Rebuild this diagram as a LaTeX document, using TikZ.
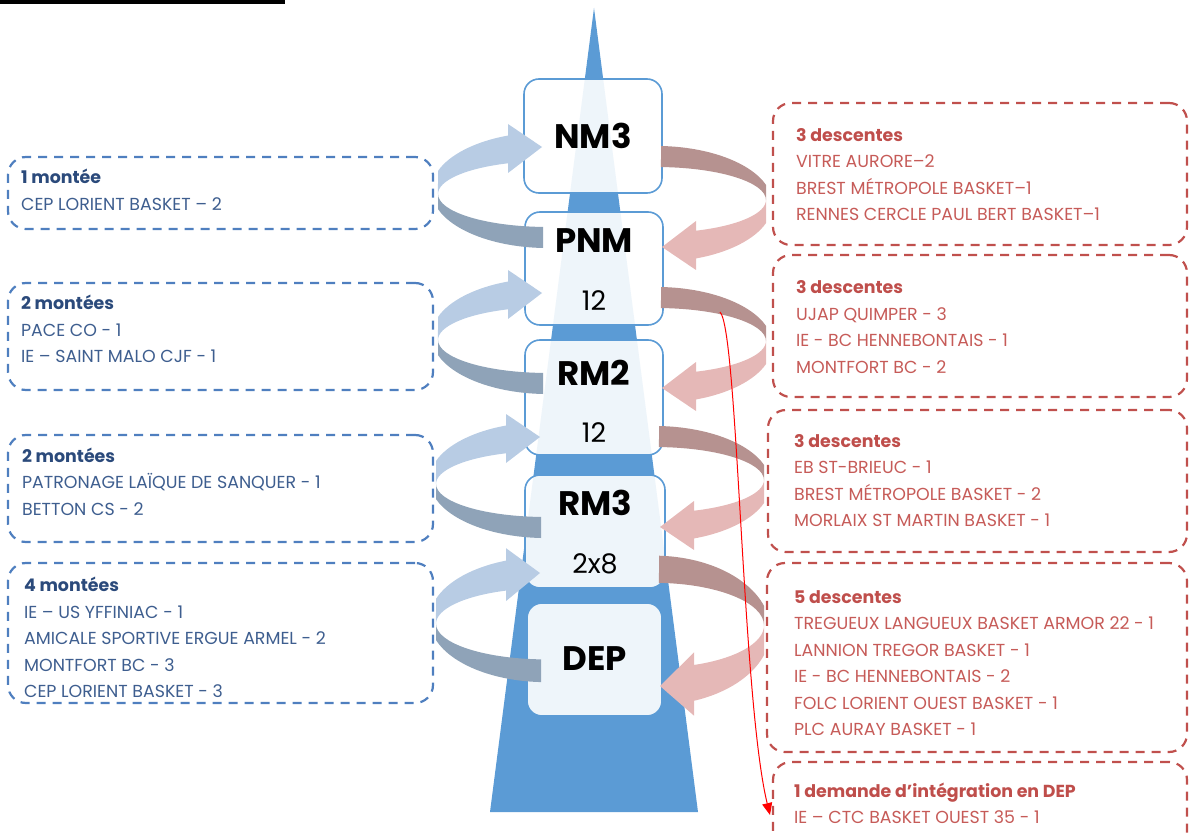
\documentclass[tikz,border=0pt]{standalone}
\usepackage{fontspec}
\setmainfont{Poppins}
\usepackage{tikz}
\usetikzlibrary{positioning,arrows.meta}

\definecolor{spire}{HTML}{5B9BD5}
\definecolor{navy}{HTML}{2B4A7B}
\definecolor{navytxt}{HTML}{3E5E8F}
\definecolor{dashblue}{HTML}{4F7FBF}
\definecolor{dashred}{HTML}{C0504D}
\definecolor{redhead}{HTML}{BF4E4B}
\definecolor{redtxt}{HTML}{C65B58}
\definecolor{upl}{HTML}{B8CCE4}
\definecolor{upd}{HTML}{8FA3B8}
\definecolor{dnd}{HTML}{B69290}
\definecolor{dnl}{HTML}{E5B8B7}

% ribbon loop, tip of the head at (0,0)
\newcommand{\boucle}[2]{%
  \fill[#1] (-104,23.9) arc[start angle=199.23, end angle=249.92, x radius=116.5, y radius=58]
    -- (-34,-23) -- (0,0) -- (-34,26) -- (-34,16.3)
    arc[start angle=248.68, end angle=180, x radius=110, y radius=33] -- cycle;
  \fill[#2] (-104,47) arc[start angle=180, end angle=92.6, x radius=110, y radius=33]
    -- (1,101) arc[start angle=92.46, end angle=160.77, x radius=116.5, y radius=58] -- cycle;}

\begin{document}
\begin{tikzpicture}[x=1pt,y=-1pt,
    niveau/.style={draw=spire, line width=1.6pt, rounded corners=15pt, fill=white,
                   fill opacity=0.9, inner sep=0pt},
    nomniv/.style={font=\fontsize{34}{38}\selectfont\bfseries, inner sep=0pt},
    effectif/.style={font=\fontsize{27}{30}\selectfont, inner sep=0pt},
    montee/.style={draw=dashblue, line width=2.2pt, dash pattern=on 9pt off 7pt,
                   rounded corners=18pt, inner sep=0pt},
    descente/.style={draw=dashred, line width=2.2pt, dash pattern=on 9pt off 7pt,
                     rounded corners=18pt, inner sep=0pt},
    mtxt/.style={font=\fontsize{17.4}{26.5}\selectfont, text=navytxt, align=left, inner sep=0pt},
    dtxt/.style={font=\fontsize{17.4}{26.5}\selectfont, text=redtxt, align=left, inner sep=0pt},
    rouge/.style={draw=red, line width=1pt, -{Triangle[length=12pt,width=10pt]}}]

  \useasboundingbox (0,0) rectangle (1189,834);
  \clip (0,0) rectangle (1189,834);

  \draw[line width=4pt] (0,2) -- (285,2);

  % the spire
  \fill[spire] (594,8) -- (698,812) -- (490,812) -- cycle;

  \node[niveau, minimum width=138pt, minimum height=114pt] (NM)  at (593,136)   {};
  \node[niveau, minimum width=138pt, minimum height=113pt] (PNM) at (594,268.5) {};
  \node[niveau, minimum width=138pt, minimum height=115pt] (RMa) at (594,397.5) {};
  \node[niveau, minimum width=140pt, minimum height=113pt] (RMb) at (595,531.5) {};
  \node[niveau, minimum width=135pt, minimum height=113pt] (DEP) at (594.5,659.5) {};

  % montees
  \begin{scope}[shift={(542,147)}] \boucle{upl}{upd} \end{scope}
  \begin{scope}[shift={(542,293)}] \boucle{upl}{upd} \end{scope}
  \begin{scope}[shift={(540,437)}] \boucle{upl}{upd} \end{scope}
  \begin{scope}[shift={(540,573)}, yscale=1.08] \boucle{upl}{upd} \end{scope}
  % descentes
  \begin{scope}[shift={(662,247)}, rotate=180] \boucle{dnl}{dnd} \end{scope}
  \begin{scope}[shift={(662,388)}, rotate=180] \boucle{dnl}{dnd} \end{scope}
  \begin{scope}[shift={(660,527)}, rotate=180] \boucle{dnl}{dnd} \end{scope}
  \begin{scope}[shift={(660,686)}, rotate=180, yscale=1.29] \boucle{dnl}{dnd} \end{scope}

  \node[nomniv, below=45pt of NM.north]    {NM3};
  \node[nomniv, below=17.5pt of PNM.north] {PNM};
  \node[effectif, above=15pt of PNM.south] {12};
  \node[nomniv, below=21pt of RMa.north]   {RM2};
  \node[effectif, above=13.3pt of RMa.south] {12};
  \node[nomniv, below=16pt of RMb.north]   {RM3};
  \node[effectif, above=15pt of RMb.south] {2x8};
  \node[nomniv, below=44.5pt of DEP.north] {DEP};

  % left boxes
  \node[montee, minimum width=425pt, minimum height=72pt]  (M1) at (220.5,193)   {};
  \node[montee, minimum width=425pt, minimum height=107pt] (M2) at (220.5,336.5) {};
  \node[montee, minimum width=425pt, minimum height=107pt] (M3) at (220.5,488.5) {};
  \node[montee, minimum width=425pt, minimum height=140pt] (M4) at (220.5,633)   {};

  \node[mtxt, below right=9pt and 14pt of M1.north west]
    {\strut\textcolor{navy}{\textbf{1 montée}}\\CEP LORIENT BASKET – 2};
  \node[mtxt, below right=9pt and 14pt of M2.north west]
    {\strut\textcolor{navy}{\textbf{2 montées}}\\PACE CO - 1\\IE – SAINT MALO CJF - 1};
  \node[mtxt, below right=9.7pt and 15pt of M3.north west]
    {\strut\textcolor{navy}{\textbf{2 montées}}\\PATRONAGE LAÏQUE DE SANQUER - 1\\BETTON CS - 2};
  \node[mtxt, below right=11pt and 17pt of M4.north west]
    {\strut\textcolor{navy}{\textbf{4 montées}}\\IE – US YFFINIAC - 1\\AMICALE SPORTIVE ERGUE ARMEL - 2\\MONTFORT BC - 3\\CEP LORIENT BASKET - 3};

  % right boxes
  \node[descente, minimum width=414pt, minimum height=142pt] (D1) at (980,174)   {};
  \node[descente, minimum width=414pt, minimum height=142pt] (D2) at (980,326)   {};
  \node[descente, minimum width=419pt, minimum height=142pt] (D3) at (977.5,481) {};
  \node[descente, minimum width=420pt, minimum height=189pt] (D4) at (977,657.5) {};
  \node[descente, minimum width=414pt, minimum height=138pt] (D5) at (980,831)   {};

  \node[dtxt, below right=20.7pt and 24pt of D1.north west]
    {\strut\textcolor{redhead}{\textbf{3 descentes}}\\VITRE AURORE–2\\BREST MÉTROPOLE BASKET–1\\RENNES CERCLE PAUL BERT BASKET–1};
  \node[dtxt, below right=21pt and 24pt of D2.north west]
    {\strut\textcolor{redhead}{\textbf{3 descentes}}\\UJAP QUIMPER - 3\\IE - BC HENNEBONTAIS - 1\\MONTFORT BC - 2};
  \node[dtxt, below right=19.7pt and 27pt of D3.north west]
    {\strut\textcolor{redhead}{\textbf{3 descentes}}\\EB ST-BRIEUC - 1\\BREST MÉTROPOLE BASKET - 2\\MORLAIX ST MARTIN BASKET - 1};
  \node[dtxt, below right=22.7pt and 28pt of D4.north west]
    {\strut\textcolor{redhead}{\textbf{5 descentes}}\\TREGUEUX LANGUEUX BASKET ARMOR 22 - 1\\LANNION TREGOR BASKET - 1\\IE - BC HENNEBONTAIS - 2\\FOLC LORIENT OUEST BASKET - 1\\PLC AURAY BASKET - 1};
  \node[dtxt, below right=17.7pt and 22pt of D5.north west]
    {\strut\textcolor{redhead}{\textbf{1 demande d’intégration en DEP}}\\IE – CTC BASKET OUEST 35 - 1};

  \coordinate (rs) at (720,312);
  \coordinate (re) at (770,815);
  \draw[rouge] (rs) .. controls (738,330) and (742,700) .. (re);

\end{tikzpicture}
\end{document}
